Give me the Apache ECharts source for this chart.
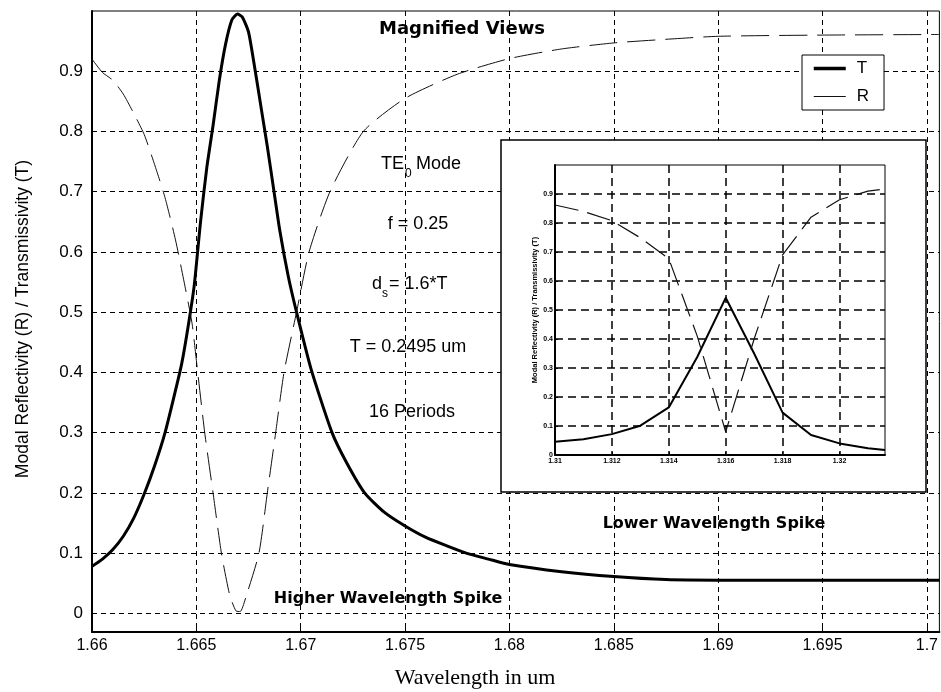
<!DOCTYPE html>
<html><head><meta charset="utf-8">
<script src="https://cdn.jsdelivr.net/npm/echarts@6.0.0/dist/echarts.min.js"></script>
<style>html,body{margin:0;padding:0;background:#fff}#c{width:941px;height:692px}</style>
</head><body><div id="c"></div>
<script>
// ---- Main plot data ----
const mainTWl = [1.66,1.6605,1.661,1.6615,1.662,1.6625,1.663,1.6635,1.664,1.6643,1.6646,1.6649,1.6652,1.6655,1.6658,1.6661,1.6664,1.6667,1.66697,1.6672,1.6675,1.6678,1.6681,1.6684,1.6687,1.669,1.6694,1.6698,1.6705,1.6715,1.6722,1.67306,1.674,1.675,1.676,1.677,1.67793,1.679,1.68,1.6825,1.685,1.6875,1.69,1.695,1.7006];
const mainT   = [0.078,0.09,0.106,0.128,0.158,0.198,0.245,0.3,0.37,0.415,0.475,0.545,0.65,0.74,0.81,0.885,0.945,0.985,0.995,0.99,0.965,0.905,0.84,0.775,0.705,0.635,0.56,0.5,0.405,0.3,0.25,0.2,0.168,0.145,0.126,0.112,0.1,0.09,0.081,0.069,0.061,0.056,0.055,0.055,0.055];
const mainRWl = [1.66,1.6605,1.661,1.6615,1.662,1.6625,1.663,1.6635,1.664,1.6645,1.6648,1.665,1.6654,1.6658,1.6662,1.6666,1.6669,1.6671,1.6674,1.668,1.6684,1.6688,1.6692,1.6698,1.6704,1.6714,1.673,1.675,1.6775,1.68,1.6825,1.685,1.6875,1.69,1.695,1.7006];
const mainR   = [0.92,0.898,0.885,0.862,0.83,0.795,0.745,0.69,0.62,0.535,0.48,0.42,0.3,0.2,0.1,0.03,0.004,0.003,0.03,0.1,0.2,0.3,0.4,0.5,0.6,0.7,0.8,0.855,0.895,0.921,0.937,0.947,0.953,0.958,0.96,0.961];
const mainXTicks = [1.66,1.665,1.67,1.675,1.68,1.685,1.69,1.695,1.7];
const mainYTicks = [0,0.1,0.2,0.3,0.4,0.5,0.6,0.7,0.8,0.9];

// ---- Inset data ----
const insetWl = [1.31,1.311,1.312,1.313,1.314,1.315,1.316,1.317,1.318,1.319,1.32,1.321,1.3216];
const insetT  = [0.046,0.054,0.072,0.101,0.164,0.338,0.542,0.35,0.146,0.069,0.04,0.023,0.017];
const insetR  = [0.862,0.84,0.808,0.749,0.677,0.41,0.08,0.40,0.69,0.82,0.88,0.91,0.917];
const insetXTicks = [1.31,1.312,1.314,1.316,1.318,1.32];
const insetYTicks = [0,0.1,0.2,0.3,0.4,0.5,0.6,0.7,0.8,0.9];

const zip = (xs, ys) => xs.map((x, i) => [x, ys[i]]);
const fmt = v => String(+(+v).toFixed(4));
const SANS = '"Liberation Sans", Arial, sans-serif';

const chart = echarts.init(document.getElementById('c'), null, {renderer: 'canvas'});

function txt(x, y, text, font, align, vAlign, extra) {
  return Object.assign({
    type: 'text', x: x, y: y, z: 20,
    style: {text: text, font: font, fill: '#000',
      align: align || 'center', verticalAlign: vAlign || 'middle',
      textAlign: align || 'center', textVerticalAlign: vAlign || 'middle'}
  }, extra || {});
}

const option = {
  animation: false,
  backgroundColor: '#fff',
  grid: [
    {left: 92, top: 11, right: 0, bottom: 60, show: true, borderColor: '#000', borderWidth: 1, z: 0},
    {left: 555, top: 165, width: 330, height: 290, show: true, borderColor: '#000', borderWidth: 1, z: 5}
  ],
  xAxis: [
    {type: 'value', gridIndex: 0, min: 1.66, max: 1.7006, interval: 0.005,
     axisLine: {show: true, onZero: false, lineStyle: {color: '#000', width: 2}},
     axisTick: {show: true, inside: true, length: 5, customValues: mainXTicks, lineStyle: {color: '#000'}},
     axisLabel: {customValues: mainXTicks, fontSize: 16, color: '#000', fontFamily: SANS, margin: 6, formatter: fmt},
     splitLine: {show: true, lineStyle: {color: '#000', width: 1, type: [5, 4]}}},
    {type: 'value', gridIndex: 1, min: 1.31, max: 1.3216, z: 6,
     axisLine: {show: true, onZero: false, lineStyle: {color: '#000', width: 2}},
     axisTick: {show: true, inside: true, length: 3, customValues: insetXTicks, lineStyle: {color: '#000'}},
     axisLabel: {customValues: insetXTicks, fontSize: 7, fontWeight: 'bold', color: '#000', fontFamily: SANS, margin: 3, formatter: fmt},
     splitLine: {show: true, lineStyle: {color: '#000', width: 1.5, type: [8, 5]}}}
  ],
  yAxis: [
    {type: 'value', gridIndex: 0, min: -0.031, max: 1.0,
     axisLine: {show: true, onZero: false, lineStyle: {color: '#000', width: 2}},
     axisTick: {show: true, inside: true, length: 5, customValues: mainYTicks, lineStyle: {color: '#000'}},
     axisLabel: {customValues: mainYTicks, fontSize: 17, color: '#000', fontFamily: SANS, margin: 9, formatter: fmt},
     splitLine: {show: true, lineStyle: {color: '#000', width: 1, type: [5, 4]}}},
    {type: 'value', gridIndex: 1, min: 0, max: 1.0, z: 6,
     name: 'Modal Reflectivity (R) / Transmissivity (T)', nameLocation: 'middle', nameGap: 16,
     nameTextStyle: {fontSize: 7.5, fontWeight: 'bold', color: '#000', fontFamily: SANS},
     axisLine: {show: true, onZero: false, lineStyle: {color: '#000', width: 2}},
     axisTick: {show: true, inside: true, length: 3, customValues: insetYTicks, lineStyle: {color: '#000'}},
     axisLabel: {customValues: insetYTicks, fontSize: 7, fontWeight: 'bold', color: '#000', fontFamily: SANS, margin: 2, formatter: fmt},
     splitLine: {show: true, lineStyle: {color: '#000', width: 1.5, type: [8, 5]}}}
  ],
  legend: {
    data: [
      {name: 'T', lineStyle: {width: 3.5, type: 'solid'}, itemStyle: {opacity: 0, color: 'transparent', borderWidth: 0}},
      {name: 'R', lineStyle: {width: 1, type: 'solid'}, itemStyle: {opacity: 0, color: 'transparent', borderWidth: 0}}
    ],
    itemStyle: {opacity: 0, color: 'transparent', borderWidth: 0},
    left: 802, top: 55, orient: 'vertical', itemWidth: 32, itemHeight: 14, itemGap: 11,
    padding: [5, 15, 5, 10], borderColor: '#000', borderWidth: 1, backgroundColor: '#fff',
    selectedMode: false, z: 10,
    textStyle: {fontSize: 17, color: '#000', fontFamily: SANS, padding: [0, 0, 0, 6]}
  },
  series: [
    {name: 'T', type: 'line', xAxisIndex: 0, yAxisIndex: 0, data: zip(mainTWl, mainT),
     symbol: 'none', smooth: 0.2, z: 3, lineStyle: {color: '#000', width: 3}, itemStyle: {color: '#000'}},
    {name: 'R', type: 'line', xAxisIndex: 0, yAxisIndex: 0, data: zip(mainRWl, mainR),
     symbol: 'none', smooth: 0.2, z: 3, lineStyle: {color: '#111', width: 1, type: [28, 10]}, itemStyle: {color: '#111'}},
    {name: 'T inset', type: 'line', xAxisIndex: 1, yAxisIndex: 1, data: zip(insetWl, insetT),
     symbol: 'none', z: 8, lineStyle: {color: '#000', width: 2}},
    {name: 'R inset', type: 'line', xAxisIndex: 1, yAxisIndex: 1, data: zip(insetWl, insetR),
     symbol: 'none', z: 8, lineStyle: {color: '#111', width: 1.2, type: [24, 9]}}
  ],
  graphic: [
    {type: 'rect', z: 4, shape: {x: 501, y: 140, width: 425, height: 352},
     style: {fill: '#fff', stroke: '#000', lineWidth: 1.5}},
    txt(462, 29, 'Magnified Views', 'bold 18px "DejaVu Sans"'),
    txt(381, 164, 'TE', '18px ' + SANS, 'left'),
    txt(405, 174, '0', '12px ' + SANS, 'left'),
    txt(416, 164, 'Mode', '18px ' + SANS, 'left'),
    txt(418, 224, 'f = 0.25', '18px ' + SANS),
    txt(372, 284, 'd', '18px ' + SANS, 'left'),
    txt(382, 294, 's', '12px ' + SANS, 'left'),
    txt(389, 284, '= 1.6*T', '18px ' + SANS, 'left'),
    txt(408, 347, 'T = 0.2495 um', '18px ' + SANS),
    txt(412, 412, '16 Periods', '18px ' + SANS),
    txt(388, 599, 'Higher Wavelength Spike', 'bold 16px "DejaVu Sans"'),
    txt(714, 524, 'Lower Wavelength Spike', 'bold 16px "DejaVu Sans"'),
    txt(475, 678, 'Wavelength in um', '22px "Liberation Serif", "Times New Roman", serif'),
    txt(23, 319, 'Modal Reflectivity (R) / Transmissivity (T)', '17.5px ' + SANS, 'center', 'middle', {rotation: Math.PI / 2})
  ]
};
chart.setOption(option);
</script>
</body></html>
